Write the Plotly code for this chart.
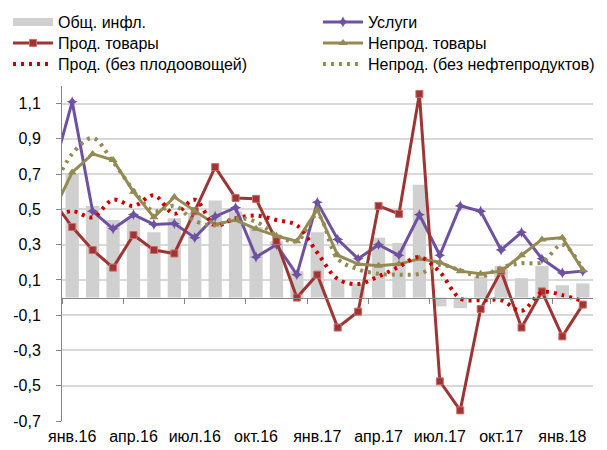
import plotly.graph_objects as go

# month index: -1 = Dec 2015, 0 = Jan 2016 ... 25 = Feb 2018
bar_months = list(range(0, 26))
line_months = list(range(-1, 26))

total_infl = [0.70, 0.52, 0.44, 0.45, 0.37, 0.45, 0.48, 0.55, 0.49, 0.40, 0.32, 0.15,
              0.37, 0.10, 0.08, 0.34, 0.31, 0.64, -0.05, -0.06, 0.12, 0.18, 0.11, 0.18,
              0.07, 0.08]

services = [0.69, 1.11, 0.49, 0.39, 0.47, 0.415, 0.42, 0.34, 0.46, 0.51, 0.23, 0.30, 0.13,
            0.54, 0.33, 0.22, 0.30, 0.24, 0.47, 0.24, 0.52, 0.49, 0.27, 0.37, 0.22,
            0.14, 0.15]

food = [0.56, 0.40, 0.27, 0.17, 0.355, 0.27, 0.25, 0.49, 0.74, 0.565, 0.56, 0.32, 0.0,
        0.13, -0.17, -0.08, 0.52, 0.475, 1.155, -0.475, -0.64, -0.065, 0.15, -0.17, 0.035,
        -0.22, -0.04]

nonfood = [0.47, 0.71, 0.815, 0.78, 0.60, 0.455, 0.57, 0.49, 0.415, 0.44, 0.39, 0.35, 0.32,
           0.50, 0.24, 0.19, 0.18, 0.19, 0.22, 0.20, 0.15, 0.135, 0.15, 0.24, 0.33,
           0.34, 0.155]

food_ex_fv = [0.45, 0.49, 0.455, 0.555, 0.52, 0.58, 0.475, 0.555, 0.41, 0.45, 0.465, 0.44, 0.41,
              0.255, 0.105, 0.077, 0.12, 0.175, 0.23, 0.145, -0.005, -0.015, -0.015, -0.075,
              0.03, 0.014, -0.02]

nonfood_ex_oil = [0.60, 0.815, 0.905, 0.77, 0.61, 0.49, 0.52, 0.435, 0.41, 0.45, 0.43, 0.355, 0.32,
                  0.47, 0.22, 0.16, 0.135, 0.13, 0.135, 0.185, 0.155, 0.12, 0.17, 0.195,
                  0.20, 0.30, 0.16]

x_tick_pos = [0, 3, 6, 9, 12, 15, 18, 21, 24]
x_tick_labels = ["янв.16", "апр.16", "июл.16", "окт.16", "янв.17",
                 "апр.17", "июл.17", "окт.17", "янв.18"]
y_tick_vals = [-0.7, -0.5, -0.3, -0.1, 0.1, 0.3, 0.5, 0.7, 0.9, 1.1]
y_tick_labels = ["-0,7", "-0,5", "-0,3", "-0,1", "0,1", "0,3", "0,5", "0,7", "0,9", "1,1"]
quarter_bounds = [-0.5, 2.5, 5.5, 8.5, 11.5, 14.5, 17.5, 20.5, 23.5]

GRAY_BAR = "#d0d0d0"
PURPLE = "#6f51a1"
RED = "#9b3634"
OLIVE = "#948a54"
RED_DOT = "#cc0000"
AXIS = "#868686"
FONT = "Liberation Sans, Arial, sans-serif"

W, H = 607, 450
ML, MR, MT, MB = 62, 14, 86, 29
PW, PH = W - ML - MR, H - MT - MB
LEFT_W, RIGHT_W = 255, 230

fig = go.Figure()

fig.add_trace(go.Bar(x=bar_months, y=total_infl, marker_color=GRAY_BAR,
                     marker_line_width=0, showlegend=False, name="Общ. инфл."))

# legend proxy for bars (wide gray swatch)
fig.add_trace(go.Scatter(x=[None], y=[None], mode="lines", name="Общ. инфл.",
                         line=dict(color=GRAY_BAR, width=8), legend="legend",
                         legendwidth=LEFT_W))

fig.add_trace(go.Scatter(x=line_months, y=services, mode="lines+markers", name="Услуги",
                         line=dict(color=PURPLE, width=3), legend="legend",
                         legendwidth=RIGHT_W,
                         marker=dict(symbol="star-diamond", size=8, color=PURPLE)))

fig.add_trace(go.Scatter(x=line_months, y=food, mode="lines+markers", name="Прод. товары",
                         line=dict(color=RED, width=3), legend="legend2",
                         legendwidth=LEFT_W,
                         marker=dict(symbol="square", size=7, color=RED,
                                     line=dict(color="#d06a6a", width=1))))

fig.add_trace(go.Scatter(x=line_months, y=nonfood, mode="lines+markers", name="Непрод. товары",
                         line=dict(color=OLIVE, width=3), legend="legend2",
                         legendwidth=RIGHT_W,
                         marker=dict(symbol="triangle-up", size=8, color=OLIVE)))

fig.add_trace(go.Scatter(x=line_months, y=food_ex_fv, mode="lines",
                         name="Прод. (без плодоовощей)", legend="legend3", legendwidth=LEFT_W,
                         line=dict(color=RED_DOT, width=4, dash="3px,5px", shape="spline")))

fig.add_trace(go.Scatter(x=line_months, y=nonfood_ex_oil, mode="lines",
                         name="Непрод. (без нефтепродуктов)", legend="legend3",
                         legendwidth=RIGHT_W,
                         line=dict(color=OLIVE, width=4, dash="3px,5px", shape="spline")))

# helper trace so the zero-line axis exists
fig.add_trace(go.Scatter(x=[None], y=[None], xaxis="x2", showlegend=False, hoverinfo="skip"))


def legend_at(center_px):
    top_px = center_px - 17
    return dict(orientation="h", x=(8 - ML) / PW, y=1 + (MT - top_px) / PH,
                xanchor="left", yanchor="top", itemwidth=40,
                font=dict(size=16, family=FONT), bgcolor="rgba(0,0,0,0)",
                borderwidth=0, traceorder="normal")


fig.update_layout(
    width=W, height=H,
    margin=dict(l=ML, r=MR, t=MT, b=MB, autoexpand=False),
    paper_bgcolor="white", plot_bgcolor="white",
    font=dict(family=FONT, size=16, color="#000000"),
    bargap=0.35,
    showlegend=True,
    legend=legend_at(22),
    legend2=legend_at(43),
    legend3=legend_at(64),
    xaxis=dict(range=[-0.5, 25.5], tickmode="array", tickvals=x_tick_pos,
               ticktext=x_tick_labels, showgrid=False, zeroline=False,
               showline=False, ticks="", tickfont=dict(size=16),
               ticklabelstandoff=4, fixedrange=True),
    xaxis2=dict(overlaying="x", anchor="free", position=0.7 / 1.9, side="bottom",
                range=[-0.5, 25.5], tickmode="array", tickvals=quarter_bounds,
                ticks="outside", ticklen=5, tickcolor=AXIS, tickwidth=1,
                showline=True, linecolor=AXIS, linewidth=1,
                showticklabels=False, showgrid=False, zeroline=False),
    yaxis=dict(range=[-0.7, 1.2], tickmode="array", tickvals=y_tick_vals,
               ticktext=y_tick_labels, showline=True, linecolor=AXIS, linewidth=1,
               ticks="outside", ticklen=5, tickcolor=AXIS,
               gridcolor="#d9d9d9", gridwidth=2, zeroline=False,
               tickfont=dict(size=16), ticklabelstandoff=12),
)

fig.write_html("out.html", config={"displayModeBar": False},
               post_script="document.body.style.margin='0px';document.body.style.overflow='hidden';")
